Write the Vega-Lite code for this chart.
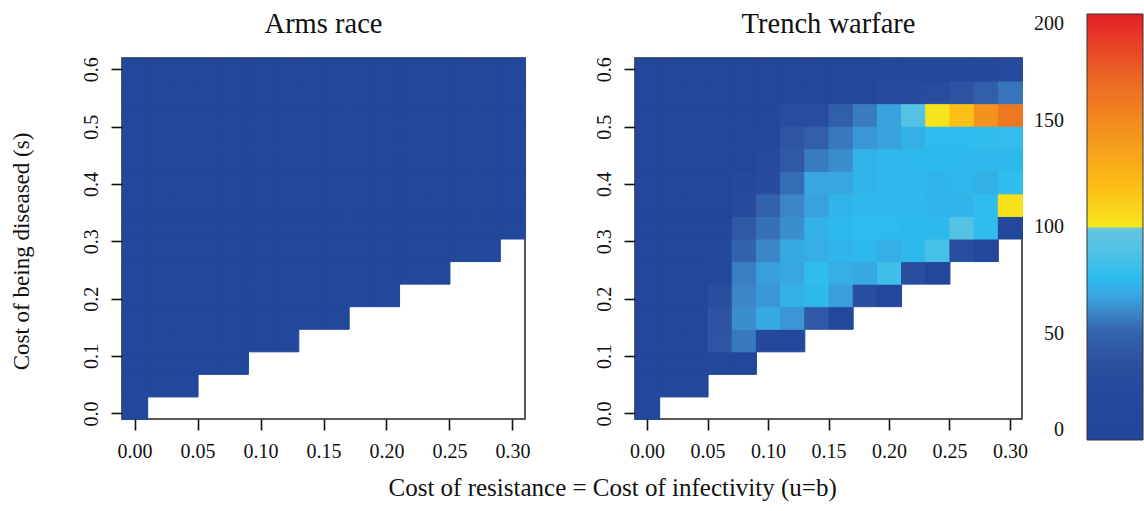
{
  "$schema": "https://vega.github.io/schema/vega-lite/v6.json",
  "background": "white",
  "padding": {"left": 9, "top": 9, "right": 0, "bottom": 0},
  "datasets": {
    "arms": [
      {"x":0,"y":0.010,"v":5},
      {"x":0,"y":0.049,"v":5},{"x":0.02,"y":0.049,"v":5},{"x":0.04,"y":0.049,"v":5},
      {"x":0,"y":0.089,"v":5},{"x":0.02,"y":0.089,"v":5},{"x":0.04,"y":0.089,"v":5},{"x":0.06,"y":0.089,"v":5},{"x":0.08,"y":0.089,"v":5},
      {"x":0,"y":0.128,"v":5},{"x":0.02,"y":0.128,"v":5},{"x":0.04,"y":0.128,"v":5},{"x":0.06,"y":0.128,"v":5},{"x":0.08,"y":0.128,"v":5},{"x":0.1,"y":0.128,"v":5},{"x":0.12,"y":0.128,"v":5},
      {"x":0,"y":0.167,"v":5},{"x":0.02,"y":0.167,"v":5},{"x":0.04,"y":0.167,"v":5},{"x":0.06,"y":0.167,"v":5},{"x":0.08,"y":0.167,"v":5},{"x":0.1,"y":0.167,"v":5},{"x":0.12,"y":0.167,"v":5},{"x":0.14,"y":0.167,"v":5},{"x":0.16,"y":0.167,"v":5},
      {"x":0,"y":0.207,"v":5},{"x":0.02,"y":0.207,"v":5},{"x":0.04,"y":0.207,"v":5},{"x":0.06,"y":0.207,"v":5},{"x":0.08,"y":0.207,"v":5},{"x":0.1,"y":0.207,"v":5},{"x":0.12,"y":0.207,"v":5},{"x":0.14,"y":0.207,"v":5},{"x":0.16,"y":0.207,"v":5},{"x":0.18,"y":0.207,"v":5},{"x":0.2,"y":0.207,"v":5},
      {"x":0,"y":0.246,"v":5},{"x":0.02,"y":0.246,"v":5},{"x":0.04,"y":0.246,"v":5},{"x":0.06,"y":0.246,"v":5},{"x":0.08,"y":0.246,"v":5},{"x":0.1,"y":0.246,"v":5},{"x":0.12,"y":0.246,"v":5},{"x":0.14,"y":0.246,"v":5},{"x":0.16,"y":0.246,"v":5},{"x":0.18,"y":0.246,"v":5},{"x":0.2,"y":0.246,"v":5},{"x":0.22,"y":0.246,"v":5},{"x":0.24,"y":0.246,"v":5},
      {"x":0,"y":0.285,"v":5},{"x":0.02,"y":0.285,"v":5},{"x":0.04,"y":0.285,"v":5},{"x":0.06,"y":0.285,"v":5},{"x":0.08,"y":0.285,"v":5},{"x":0.1,"y":0.285,"v":5},{"x":0.12,"y":0.285,"v":5},{"x":0.14,"y":0.285,"v":5},{"x":0.16,"y":0.285,"v":5},{"x":0.18,"y":0.285,"v":5},{"x":0.2,"y":0.285,"v":5},{"x":0.22,"y":0.285,"v":5},{"x":0.24,"y":0.285,"v":5},{"x":0.26,"y":0.285,"v":5},{"x":0.28,"y":0.285,"v":5},
      {"x":0,"y":0.325,"v":5},{"x":0.02,"y":0.325,"v":5},{"x":0.04,"y":0.325,"v":5},{"x":0.06,"y":0.325,"v":5},{"x":0.08,"y":0.325,"v":5},{"x":0.1,"y":0.325,"v":5},{"x":0.12,"y":0.325,"v":5},{"x":0.14,"y":0.325,"v":5},{"x":0.16,"y":0.325,"v":5},{"x":0.18,"y":0.325,"v":5},{"x":0.2,"y":0.325,"v":5},{"x":0.22,"y":0.325,"v":5},{"x":0.24,"y":0.325,"v":5},{"x":0.26,"y":0.325,"v":5},{"x":0.28,"y":0.325,"v":5},{"x":0.3,"y":0.325,"v":5},
      {"x":0,"y":0.364,"v":5},{"x":0.02,"y":0.364,"v":5},{"x":0.04,"y":0.364,"v":5},{"x":0.06,"y":0.364,"v":5},{"x":0.08,"y":0.364,"v":5},{"x":0.1,"y":0.364,"v":5},{"x":0.12,"y":0.364,"v":5},{"x":0.14,"y":0.364,"v":5},{"x":0.16,"y":0.364,"v":5},{"x":0.18,"y":0.364,"v":5},{"x":0.2,"y":0.364,"v":5},{"x":0.22,"y":0.364,"v":5},{"x":0.24,"y":0.364,"v":5},{"x":0.26,"y":0.364,"v":5},{"x":0.28,"y":0.364,"v":5},{"x":0.3,"y":0.364,"v":5},
      {"x":0,"y":0.403,"v":5},{"x":0.02,"y":0.403,"v":5},{"x":0.04,"y":0.403,"v":5},{"x":0.06,"y":0.403,"v":5},{"x":0.08,"y":0.403,"v":5},{"x":0.1,"y":0.403,"v":5},{"x":0.12,"y":0.403,"v":5},{"x":0.14,"y":0.403,"v":5},{"x":0.16,"y":0.403,"v":5},{"x":0.18,"y":0.403,"v":5},{"x":0.2,"y":0.403,"v":5},{"x":0.22,"y":0.403,"v":5},{"x":0.24,"y":0.403,"v":5},{"x":0.26,"y":0.403,"v":5},{"x":0.28,"y":0.403,"v":5},{"x":0.3,"y":0.403,"v":5},
      {"x":0,"y":0.443,"v":5},{"x":0.02,"y":0.443,"v":5},{"x":0.04,"y":0.443,"v":5},{"x":0.06,"y":0.443,"v":5},{"x":0.08,"y":0.443,"v":5},{"x":0.1,"y":0.443,"v":5},{"x":0.12,"y":0.443,"v":5},{"x":0.14,"y":0.443,"v":5},{"x":0.16,"y":0.443,"v":5},{"x":0.18,"y":0.443,"v":5},{"x":0.2,"y":0.443,"v":5},{"x":0.22,"y":0.443,"v":5},{"x":0.24,"y":0.443,"v":5},{"x":0.26,"y":0.443,"v":5},{"x":0.28,"y":0.443,"v":5},{"x":0.3,"y":0.443,"v":5},
      {"x":0,"y":0.482,"v":5},{"x":0.02,"y":0.482,"v":5},{"x":0.04,"y":0.482,"v":5},{"x":0.06,"y":0.482,"v":5},{"x":0.08,"y":0.482,"v":5},{"x":0.1,"y":0.482,"v":5},{"x":0.12,"y":0.482,"v":5},{"x":0.14,"y":0.482,"v":5},{"x":0.16,"y":0.482,"v":5},{"x":0.18,"y":0.482,"v":5},{"x":0.2,"y":0.482,"v":5},{"x":0.22,"y":0.482,"v":5},{"x":0.24,"y":0.482,"v":5},{"x":0.26,"y":0.482,"v":5},{"x":0.28,"y":0.482,"v":5},{"x":0.3,"y":0.482,"v":5},
      {"x":0,"y":0.521,"v":5},{"x":0.02,"y":0.521,"v":5},{"x":0.04,"y":0.521,"v":5},{"x":0.06,"y":0.521,"v":5},{"x":0.08,"y":0.521,"v":5},{"x":0.1,"y":0.521,"v":5},{"x":0.12,"y":0.521,"v":5},{"x":0.14,"y":0.521,"v":5},{"x":0.16,"y":0.521,"v":5},{"x":0.18,"y":0.521,"v":5},{"x":0.2,"y":0.521,"v":5},{"x":0.22,"y":0.521,"v":5},{"x":0.24,"y":0.521,"v":5},{"x":0.26,"y":0.521,"v":5},{"x":0.28,"y":0.521,"v":5},{"x":0.3,"y":0.521,"v":5},
      {"x":0,"y":0.561,"v":5},{"x":0.02,"y":0.561,"v":5},{"x":0.04,"y":0.561,"v":5},{"x":0.06,"y":0.561,"v":5},{"x":0.08,"y":0.561,"v":5},{"x":0.1,"y":0.561,"v":5},{"x":0.12,"y":0.561,"v":5},{"x":0.14,"y":0.561,"v":5},{"x":0.16,"y":0.561,"v":5},{"x":0.18,"y":0.561,"v":5},{"x":0.2,"y":0.561,"v":5},{"x":0.22,"y":0.561,"v":5},{"x":0.24,"y":0.561,"v":5},{"x":0.26,"y":0.561,"v":5},{"x":0.28,"y":0.561,"v":5},{"x":0.3,"y":0.561,"v":5},
      {"x":0,"y":0.600,"v":5},{"x":0.02,"y":0.600,"v":5},{"x":0.04,"y":0.600,"v":5},{"x":0.06,"y":0.600,"v":5},{"x":0.08,"y":0.600,"v":5},{"x":0.1,"y":0.600,"v":5},{"x":0.12,"y":0.600,"v":5},{"x":0.14,"y":0.600,"v":5},{"x":0.16,"y":0.600,"v":5},{"x":0.18,"y":0.600,"v":5},{"x":0.2,"y":0.600,"v":5},{"x":0.22,"y":0.600,"v":5},{"x":0.24,"y":0.600,"v":5},{"x":0.26,"y":0.600,"v":5},{"x":0.28,"y":0.600,"v":5},{"x":0.3,"y":0.600,"v":5}
    ],
    "trench": [
      {"x":0,"y":0.010,"v":5},
      {"x":0,"y":0.049,"v":5},{"x":0.02,"y":0.049,"v":5},{"x":0.04,"y":0.049,"v":5},
      {"x":0,"y":0.089,"v":5},{"x":0.02,"y":0.089,"v":5},{"x":0.04,"y":0.089,"v":5},{"x":0.06,"y":0.089,"v":10},{"x":0.08,"y":0.089,"v":8},
      {"x":0,"y":0.128,"v":5},{"x":0.02,"y":0.128,"v":5},{"x":0.04,"y":0.128,"v":5},{"x":0.06,"y":0.128,"v":40},{"x":0.08,"y":0.128,"v":56},{"x":0.1,"y":0.128,"v":15},{"x":0.12,"y":0.128,"v":8},
      {"x":0,"y":0.167,"v":5},{"x":0.02,"y":0.167,"v":5},{"x":0.04,"y":0.167,"v":5},{"x":0.06,"y":0.167,"v":38},{"x":0.08,"y":0.167,"v":62},{"x":0.1,"y":0.167,"v":69},{"x":0.12,"y":0.167,"v":64},{"x":0.14,"y":0.167,"v":42},{"x":0.16,"y":0.167,"v":8},
      {"x":0,"y":0.207,"v":5},{"x":0.02,"y":0.207,"v":5},{"x":0.04,"y":0.207,"v":5},{"x":0.06,"y":0.207,"v":32},{"x":0.08,"y":0.207,"v":60},{"x":0.1,"y":0.207,"v":64},{"x":0.12,"y":0.207,"v":72},{"x":0.14,"y":0.207,"v":75},{"x":0.16,"y":0.207,"v":66},{"x":0.18,"y":0.207,"v":32},{"x":0.2,"y":0.207,"v":8},
      {"x":0,"y":0.246,"v":5},{"x":0.02,"y":0.246,"v":5},{"x":0.04,"y":0.246,"v":5},{"x":0.06,"y":0.246,"v":15},{"x":0.08,"y":0.246,"v":58},{"x":0.1,"y":0.246,"v":66},{"x":0.12,"y":0.246,"v":68},{"x":0.14,"y":0.246,"v":77},{"x":0.16,"y":0.246,"v":71},{"x":0.18,"y":0.246,"v":69},{"x":0.2,"y":0.246,"v":82},{"x":0.22,"y":0.246,"v":32},{"x":0.24,"y":0.246,"v":8},
      {"x":0,"y":0.285,"v":5},{"x":0.02,"y":0.285,"v":5},{"x":0.04,"y":0.285,"v":5},{"x":0.06,"y":0.285,"v":15},{"x":0.08,"y":0.285,"v":50},{"x":0.1,"y":0.285,"v":60},{"x":0.12,"y":0.285,"v":69},{"x":0.14,"y":0.285,"v":71},{"x":0.16,"y":0.285,"v":73},{"x":0.18,"y":0.285,"v":75},{"x":0.2,"y":0.285,"v":71},{"x":0.22,"y":0.285,"v":75},{"x":0.24,"y":0.285,"v":85},{"x":0.26,"y":0.285,"v":32},{"x":0.28,"y":0.285,"v":8},
      {"x":0,"y":0.325,"v":5},{"x":0.02,"y":0.325,"v":5},{"x":0.04,"y":0.325,"v":5},{"x":0.06,"y":0.325,"v":8},{"x":0.08,"y":0.325,"v":42},{"x":0.1,"y":0.325,"v":54},{"x":0.12,"y":0.325,"v":62},{"x":0.14,"y":0.325,"v":72},{"x":0.16,"y":0.325,"v":75},{"x":0.18,"y":0.325,"v":76},{"x":0.2,"y":0.325,"v":76},{"x":0.22,"y":0.325,"v":75},{"x":0.24,"y":0.325,"v":75},{"x":0.26,"y":0.325,"v":90},{"x":0.28,"y":0.325,"v":77},{"x":0.3,"y":0.325,"v":5},
      {"x":0,"y":0.364,"v":5},{"x":0.02,"y":0.364,"v":5},{"x":0.04,"y":0.364,"v":5},{"x":0.06,"y":0.364,"v":5},{"x":0.08,"y":0.364,"v":25},{"x":0.1,"y":0.364,"v":50},{"x":0.12,"y":0.364,"v":60},{"x":0.14,"y":0.364,"v":67},{"x":0.16,"y":0.364,"v":73},{"x":0.18,"y":0.364,"v":74},{"x":0.2,"y":0.364,"v":74},{"x":0.22,"y":0.364,"v":74},{"x":0.24,"y":0.364,"v":73},{"x":0.26,"y":0.364,"v":73},{"x":0.28,"y":0.364,"v":77},{"x":0.3,"y":0.364,"v":103},
      {"x":0,"y":0.403,"v":5},{"x":0.02,"y":0.403,"v":5},{"x":0.04,"y":0.403,"v":5},{"x":0.06,"y":0.403,"v":5},{"x":0.08,"y":0.403,"v":22},{"x":0.1,"y":0.403,"v":28},{"x":0.12,"y":0.403,"v":53},{"x":0.14,"y":0.403,"v":68},{"x":0.16,"y":0.403,"v":68},{"x":0.18,"y":0.403,"v":73},{"x":0.2,"y":0.403,"v":74},{"x":0.22,"y":0.403,"v":74},{"x":0.24,"y":0.403,"v":73},{"x":0.26,"y":0.403,"v":74},{"x":0.28,"y":0.403,"v":72},{"x":0.3,"y":0.403,"v":77},
      {"x":0,"y":0.443,"v":5},{"x":0.02,"y":0.443,"v":5},{"x":0.04,"y":0.443,"v":5},{"x":0.06,"y":0.443,"v":5},{"x":0.08,"y":0.443,"v":5},{"x":0.1,"y":0.443,"v":25},{"x":0.12,"y":0.443,"v":42},{"x":0.14,"y":0.443,"v":57},{"x":0.16,"y":0.443,"v":62},{"x":0.18,"y":0.443,"v":73},{"x":0.2,"y":0.443,"v":74},{"x":0.22,"y":0.443,"v":75},{"x":0.24,"y":0.443,"v":75},{"x":0.26,"y":0.443,"v":75},{"x":0.28,"y":0.443,"v":74},{"x":0.3,"y":0.443,"v":75},
      {"x":0,"y":0.482,"v":5},{"x":0.02,"y":0.482,"v":5},{"x":0.04,"y":0.482,"v":5},{"x":0.06,"y":0.482,"v":5},{"x":0.08,"y":0.482,"v":5},{"x":0.1,"y":0.482,"v":15},{"x":0.12,"y":0.482,"v":40},{"x":0.14,"y":0.482,"v":47},{"x":0.16,"y":0.482,"v":56},{"x":0.18,"y":0.482,"v":64},{"x":0.2,"y":0.482,"v":67},{"x":0.22,"y":0.482,"v":72},{"x":0.24,"y":0.482,"v":76},{"x":0.26,"y":0.482,"v":76},{"x":0.28,"y":0.482,"v":77},{"x":0.3,"y":0.482,"v":78},
      {"x":0,"y":0.521,"v":5},{"x":0.02,"y":0.521,"v":5},{"x":0.04,"y":0.521,"v":5},{"x":0.06,"y":0.521,"v":5},{"x":0.08,"y":0.521,"v":5},{"x":0.1,"y":0.521,"v":5},{"x":0.12,"y":0.521,"v":30},{"x":0.14,"y":0.521,"v":30},{"x":0.16,"y":0.521,"v":47},{"x":0.18,"y":0.521,"v":57},{"x":0.2,"y":0.521,"v":67},{"x":0.22,"y":0.521,"v":90},{"x":0.24,"y":0.521,"v":102},{"x":0.26,"y":0.521,"v":118},{"x":0.28,"y":0.521,"v":145},{"x":0.3,"y":0.521,"v":160},
      {"x":0,"y":0.561,"v":5},{"x":0.02,"y":0.561,"v":5},{"x":0.04,"y":0.561,"v":5},{"x":0.06,"y":0.561,"v":5},{"x":0.08,"y":0.561,"v":5},{"x":0.1,"y":0.561,"v":5},{"x":0.12,"y":0.561,"v":5},{"x":0.14,"y":0.561,"v":5},{"x":0.16,"y":0.561,"v":5},{"x":0.18,"y":0.561,"v":5},{"x":0.2,"y":0.561,"v":25},{"x":0.22,"y":0.561,"v":28},{"x":0.24,"y":0.561,"v":30},{"x":0.26,"y":0.561,"v":38},{"x":0.28,"y":0.561,"v":47},{"x":0.3,"y":0.561,"v":55},
      {"x":0,"y":0.600,"v":5},{"x":0.02,"y":0.600,"v":5},{"x":0.04,"y":0.600,"v":5},{"x":0.06,"y":0.600,"v":5},{"x":0.08,"y":0.600,"v":5},{"x":0.1,"y":0.600,"v":5},{"x":0.12,"y":0.600,"v":5},{"x":0.14,"y":0.600,"v":5},{"x":0.16,"y":0.600,"v":5},{"x":0.18,"y":0.600,"v":5},{"x":0.2,"y":0.600,"v":15},{"x":0.22,"y":0.600,"v":18},{"x":0.24,"y":0.600,"v":20},{"x":0.26,"y":0.600,"v":22},{"x":0.28,"y":0.600,"v":22},{"x":0.3,"y":0.600,"v":25}
    ]
  },
  "hconcat": [
    {
      "width": 403,
      "height": 361,
      "title": {"text": "Arms race", "fontSize": 28.5, "offset": 18, "anchor": "middle"},
      "data": {"name": "arms"},
      "mark": {"type": "rect", "binSpacing": 0, "strokeWidth": 1, "stroke": {"expr": "scale('color', datum.v)"}},
      "encoding": {
        "x": {"field": "x", "type": "quantitative", "bin": {"extent": [-0.01, 0.31], "step": 0.02, "nice": false},
              "scale": {"domain": [-0.01, 0.31], "nice": false, "zero": false},
              "axis": {"title": null, "values": [0, 0.05, 0.1, 0.15, 0.2, 0.25, 0.3], "format": ".2f"}},
        "y": {"field": "y", "type": "quantitative", "bin": {"extent": [-0.00967, 0.61967], "step": 0.039333, "nice": false},
              "scale": {"domain": [-0.00967, 0.61967], "nice": false, "zero": false},
              "axis": {"title": "Cost of being diseased (s)", "values": [0, 0.1, 0.2, 0.3, 0.4, 0.5, 0.6], "format": ".1f", "titleFontSize": 23, "titlePadding": 48, "titleY": 193}},
        "color": {"field": "v", "type": "quantitative",
                  "scale": {"type": "linear", "domain": [0, 20, 35, 50, 60, 68, 76, 88, 99.99, 100, 120, 150, 175, 200],
                            "range": ["#22469a", "#24489b", "#2c4f9f", "#3262ad", "#3c86c8", "#38a6e0", "#2dbcee", "#4fc1e6", "#68c5de", "#f6e71c", "#fcbc16", "#f18a1f", "#ea5b26", "#e41e26"], "interpolate": "rgb"},
                  "legend": {"type": "gradient", "title": null, "orient": "none", "legendX": 965, "legendY": -44, "gradientLength": 426, "gradientThickness": 56,
                             "values": [0, 50, 100, 150, 200], "labelAlign": "right", "labelOffset": -79, "labelBaseline": "middle",
                             "labelFontSize": 20, "labelFont": "Liberation Serif", "labelColor": "#111", "labelOverlap": false,
                             "gradientStrokeColor": "#333", "gradientStrokeWidth": 1,
                             "encode": {"gradient": {"update": {"fill": {"gradient": "color", "start": [0, 1], "stop": [0, 0], "count": 400}}},
                                        "labels": {"update": {"align": {"value": "right"}}}}}}
      }
    },
    {
      "width": 387,
      "height": 361,
      "title": {"text": "Trench warfare", "fontSize": 28.5, "offset": 18, "anchor": "middle"},
      "data": {"name": "trench"},
      "mark": {"type": "rect", "binSpacing": 0, "strokeWidth": 1, "stroke": {"expr": "scale('color', datum.v)"}},
      "encoding": {
        "x": {"field": "x", "type": "quantitative", "bin": {"extent": [-0.01, 0.31], "step": 0.02, "nice": false},
              "scale": {"domain": [-0.01, 0.31], "nice": false, "zero": false},
              "axis": {"title": null, "values": [0, 0.05, 0.1, 0.15, 0.2, 0.25, 0.3], "format": ".2f"}},
        "y": {"field": "y", "type": "quantitative", "bin": {"extent": [-0.00967, 0.61967], "step": 0.039333, "nice": false},
              "scale": {"domain": [-0.00967, 0.61967], "nice": false, "zero": false},
              "axis": {"title": null, "values": [0, 0.1, 0.2, 0.3, 0.4, 0.5, 0.6], "format": ".1f"}},
        "color": {"field": "v", "type": "quantitative",
                  "scale": {"type": "linear", "domain": [0, 20, 35, 50, 60, 68, 76, 88, 99.99, 100, 120, 150, 175, 200],
                            "range": ["#22469a", "#24489b", "#2c4f9f", "#3262ad", "#3c86c8", "#38a6e0", "#2dbcee", "#4fc1e6", "#68c5de", "#f6e71c", "#fcbc16", "#f18a1f", "#ea5b26", "#e41e26"], "interpolate": "rgb"},
                  "legend": {"type": "gradient", "title": null, "orient": "none", "legendX": 965, "legendY": -44, "gradientLength": 426, "gradientThickness": 56,
                             "values": [0, 50, 100, 150, 200], "labelAlign": "right", "labelOffset": -79, "labelBaseline": "middle",
                             "labelFontSize": 20, "labelFont": "Liberation Serif", "labelColor": "#111", "labelOverlap": false,
                             "gradientStrokeColor": "#333", "gradientStrokeWidth": 1,
                             "encode": {"gradient": {"update": {"fill": {"gradient": "color", "start": [0, 1], "stop": [0, 0], "count": 400}}},
                                        "labels": {"update": {"align": {"value": "right"}}}}}}
      }
    }
  ],
  "spacing": 62,
  "resolve": {"scale": {"color": "shared"}},
  "title": {"text": "Cost of resistance = Cost of infectivity (u=b)", "orient": "bottom", "anchor": "middle", "fontSize": 25, "offset": 14, "dx": 36},
  "config": {
    "font": "Liberation Serif",
    "view": {"stroke": "#222", "strokeWidth": 1.5},
    "axis": {"grid": false, "domain": false, "ticks": true, "tickSize": 11, "tickWidth": 1.6, "tickColor": "#111",
             "labelFont": "Liberation Serif", "labelFontSize": 20, "labelColor": "#111",
             "titleFont": "Liberation Serif", "titleFontWeight": "normal", "titleColor": "#111"},
    "axisX": {"labelPadding": 11},
    "axisY": {"labelPadding": 10, "labelAngle": -90, "labelAlign": "center", "labelBaseline": "bottom"},
    "title": {"font": "Liberation Serif", "fontWeight": "normal", "color": "#111"}
  }
}
